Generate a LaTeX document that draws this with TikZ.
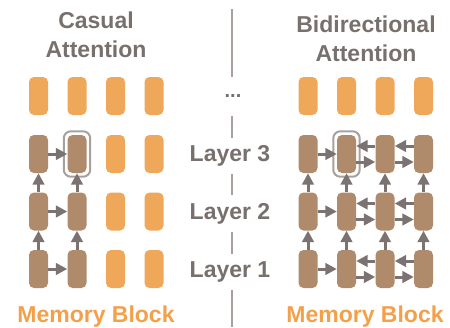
\documentclass[tikz,border=0pt]{standalone}
\usepackage{fontspec}
\setmainfont{Liberation Sans}
\usetikzlibrary{arrows.meta,fit}
\definecolor{idleorange}{HTML}{EFA85A}
\definecolor{busybrown}{HTML}{AF8B6B}
\definecolor{arrgray}{HTML}{7B7371}
\definecolor{txtgray}{HTML}{77706D}
\definecolor{linegray}{HTML}{A7A09D}
\definecolor{memorange}{HTML}{F4A04A}
\begin{document}
\begin{tikzpicture}
    [x=1pt,y=-1pt,
     blk/.style={rectangle,rounded corners=5pt,minimum width=19pt,minimum height=38pt,inner sep=0pt},
     idle/.style={blk,fill=idleorange},
     busy/.style={blk,fill=busybrown},
     arr/.style={draw=arrgray,line width=3pt,-{Triangle[length=11.5pt,width=11.5pt]}},
     hl/.style={draw=linegray,line width=2pt,rounded corners=7pt,inner sep=3.5pt},
     lbl/.style={font=\fontsize{23}{29}\selectfont\bfseries,text=txtgray}]
    \useasboundingbox (0,0) rectangle (450,327);
    % blocks
    \foreach \r/\y in {1/269,2/211.5,3/154} {
      \foreach \c in {1,2} \node[busy] (c-\c-\r) at (38.5*\c,\y) {};
      \foreach \c in {3,4} \node[idle] (c-\c-\r) at (38.5*\c,\y) {};
      \foreach \c in {1,...,4} \node[busy] (b-\c-\r) at (269.5+38.5*\c,\y) {};
    }
    \foreach \c in {1,...,4} {
      \node[idle] (c-\c-4) at (38.5*\c,96) {};
      \node[idle] (b-\c-4) at (269.5+38.5*\c,96) {};
    }
    \node[hl,fit=(c-2-3)] (hl-c) {};
    \node[hl,fit=(b-2-3)] (hl-b) {};
    % attention
    \foreach \r in {1,2,3} {
      \draw[arr] (c-1-\r) -- (c-2-\r);
      \draw[arr] (b-1-\r) -- (b-2-\r);
      \foreach \c/\d in {2/3,3/4} {
        \draw[arr] ([yshift=8pt]b-\d-\r.west) -- ([yshift=8pt]b-\c-\r.east);
        \draw[arr] ([yshift=-8pt]b-\c-\r.east) -- ([yshift=-8pt]b-\d-\r.west);
      }
    }
    \foreach \r/\s in {1/2,2/3} {
      \foreach \c in {1,2} \draw[arr] (c-\c-\r) -- (c-\c-\s);
      \foreach \c in {1,...,4} \draw[arr] (b-\c-\r) -- (b-\c-\s);
    }
    % divider
    \coordinate (top) at (232,9);
    \coordinate (bot) at (232,327);
    \draw[linegray,line width=2.5pt] (top) -- (bot);
    \node[fill=white,minimum height=39pt,font=\fontsize{20}{20}\selectfont\bfseries,text=txtgray] (dots) at (233,96.5) {...};
    \node[lbl,fill=white,inner xsep=2pt,inner ysep=8pt] (l3) at (230,156) {Layer 3};
    \node[lbl,fill=white,inner xsep=2pt,inner ysep=8pt] (l2) at (230,213.5) {Layer 2};
    \node[lbl,fill=white,inner xsep=2pt,inner ysep=8pt] (l1) at (230,272) {Layer 1};
    % titles
    \node[lbl,align=center] (casual) at (96,34.5) {Casual\\Attention};
    \node[lbl,align=center] (bidir) at (366,38.5) {Bidirectional\\Attention};
    \node[lbl,text=memorange] (mem-c) at (96,316.5) {Memory Block};
    \node[lbl,text=memorange] (mem-b) at (365,316.5) {Memory Block};
\end{tikzpicture}
\end{document}
